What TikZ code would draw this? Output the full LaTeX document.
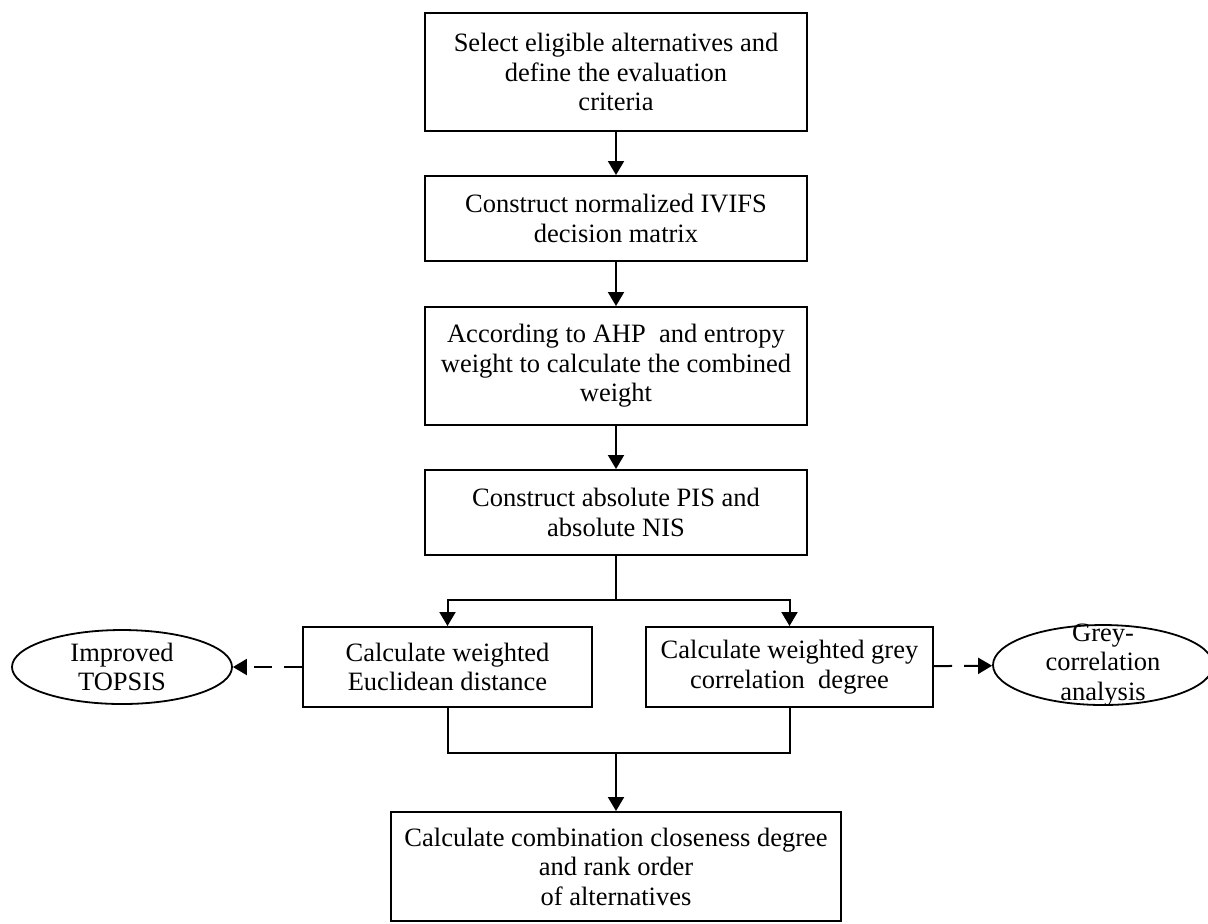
\documentclass[tikz,border=0pt]{standalone}
\usepackage{fontspec}
\setmainfont{Liberation Serif}
\usetikzlibrary{shapes.geometric, arrows.meta}

\tikzset{
    procbox/.style={draw, line width=1pt, rectangle, align=center, inner sep=2pt},
    outcome/.style={draw, line width=0.9pt, ellipse, inner sep=0pt},
    flow/.style={line width=1pt, -{Triangle[length=7pt,width=8pt]}},
    hint/.style={flow, dash pattern=on 9pt off 6pt}
}

\begin{document}
\begin{tikzpicture}[x=0.5pt, y=-0.5pt, font=\fontsize{13.25}{14.75}\selectfont]
    \useasboundingbox (0,0) rectangle (1208,923);
    % Main column
    \node[procbox, minimum width=191pt, minimum height=59pt] (select) at (616,72) {Select eligible alternatives and\\define the evaluation\\criteria};
    \node[procbox, minimum width=191pt, minimum height=42.5pt] (normal) at (616,218.5) {Construct normalized IVIFS\\decision matrix};
    \node[procbox, minimum width=191pt, minimum height=59pt] (weight) at (616,366) {According to AHP\ \ and entropy\\weight to calculate the combined\\weight};
    \node[procbox, minimum width=191pt, minimum height=42.5pt] (ideal) at (616,512.5) {Construct absolute PIS and\\absolute NIS};
    % Two branches
    \node[procbox, minimum width=144.5pt, minimum height=40pt] (euclid) at (447.5,667) {Calculate weighted\\Euclidean distance};
    \node[procbox, minimum width=143.5pt, minimum height=40pt] (greydeg) at (789.5,667) {Calculate weighted grey\\correlation\ \ degree};
    \node[procbox, minimum width=225pt, minimum height=54.5pt] (rank) at (616,866.5) {Calculate combination closeness degree\\and rank order\\of alternatives};
    % Methods
    \node[outcome, minimum width=110pt, minimum height=37pt, label={[align=center]center:Improved\\TOPSIS}] (topsis) at (122,667) {};
    \node[outcome, minimum width=110pt, minimum height=40pt, label={[align=center]center:Grey-\\correlation\\analysis}] (gra) at (1103,665) {};
    % Junctions
    \coordinate (split) at (616,600);
    \coordinate (merge) at (616,753);
    % Arrows
    \draw[flow] (select) -- (normal);
    \draw[flow] (normal) -- (weight);
    \draw[flow] (weight) -- (ideal);
    \draw[line width=1pt] (ideal) -- (split);
    \draw[flow] (split) -| (euclid);
    \draw[flow] (split) -| (greydeg);
    \draw[line width=1pt] (euclid) |- (merge) -| (greydeg);
    \draw[flow] (merge) -- (rank);
    \draw[hint] (euclid) -- (topsis);
    \draw[hint] (greydeg) -- (gra);
\end{tikzpicture}
\end{document}
